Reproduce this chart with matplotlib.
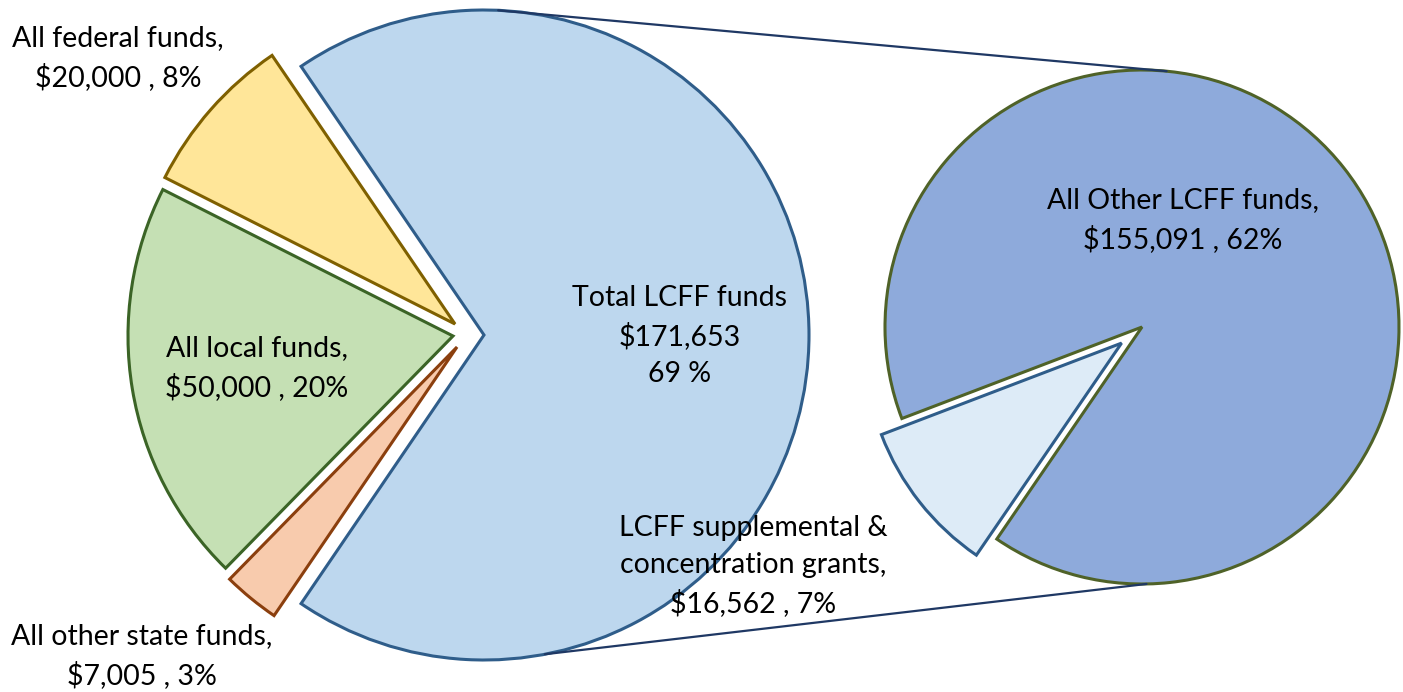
import numpy as np
import matplotlib.pyplot as plt

# ====== data ======
main_labels = ["Total LCFF funds", "All federal funds", "All local funds", "All other state funds"]
main_values = [171653, 20000, 50000, 7005]
sub_labels = ["All Other LCFF funds", "LCFF supplemental & concentration grants"]
sub_values = [155091, 16562]
# ==================

W, H = 1403, 692
plt.rcParams["font.family"] = ["Lato", "DejaVu Sans"]

fig = plt.figure(figsize=(W / 100, H / 100), dpi=100)
ax = fig.add_axes([0, 0, 1, 1])


def px(x, y):
    # picture coordinates (y down) -> data coordinates
    return x, H - y


# left pie
c1 = px(484, 335)
r1 = 325
total = sum(main_values)
start1 = -180 * main_values[0] / total
w1, _ = ax.pie(
    main_values,
    center=c1,
    radius=r1,
    startangle=start1,
    colors=["#BDD7EE", "#FFE699", "#C5E0B4", "#F8CBAD"],
    wedgeprops=dict(linewidth=2.2),
)
# pulled-out slices (offset in pixels, like the original)
offsets = [(0, 0), (-29, 11), (-31, -1), (-27, -12)]
edges = ["#2F5D8A", "#7F6000", "#3B6426", "#8B3F0E"]
for w, (dx, dy), ec in zip(w1, offsets, edges):
    w.set_center((c1[0] + dx, c1[1] + dy))
    w.set_edgecolor(ec)

# right pie
c2 = px(1142, 327)
r2 = 257
w2, _ = ax.pie(
    sub_values,
    center=c2,
    radius=r2,
    startangle=235.6,
    explode=[0, 26],
    colors=["#8EAADB", "#DDEBF7"],
    wedgeprops=dict(linewidth=2.2),
)
w2[0].set_edgecolor("#4F6228")
w2[1].set_edgecolor("#2F5D8A")


# connector lines
def on_circle(c, r, deg):
    a = np.deg2rad(deg)
    return c[0] + r * np.cos(a), c[1] + r * np.sin(a)


for a_left, a_right in [(87.5, 84.5), (-79.2, -89)]:
    p, q = on_circle(c1, r1, a_left), on_circle(c2, r2, a_right)
    ax.plot([p[0], q[0]], [p[1], q[1]], color="#1F3864", lw=1.6, solid_capstyle="round")

# labels
fs = 20.5
ls = 1.5
txt = dict(ha="center", va="center", fontsize=fs, linespacing=ls, color="black")


def money(v):
    return f"${v:,}"


ax.text(*px(118, 58), f"{main_labels[1]},\n{money(main_values[1])} , {main_values[1] / total:.0%}", **txt)
ax.text(*px(257, 368), f"{main_labels[2]},\n{money(main_values[2])} , {main_values[2] / total:.0%}", **txt)
ax.text(*px(142, 656), f"{main_labels[3]},\n{money(main_values[3])} , {main_values[3] / total:.0%}", **txt)
ax.text(*px(680, 336), f"{main_labels[0]}\n{money(main_values[0])}\n{main_values[0] / total * 100:.0f} %", **txt)
ax.text(*px(753, 566), f"LCFF supplemental &\nconcentration grants,\n{money(sub_values[1])} , {sub_values[1] / total:.0%}", **txt)
ax.text(*px(1183, 220), f"{sub_labels[0]},\n{money(sub_values[0])} , {sub_values[0] / total:.0%}", **txt)

ax.set_xlim(0, W)
ax.set_ylim(0, H)
ax.set_aspect("equal")
ax.axis("off")

fig.savefig("out.png", dpi=100)
